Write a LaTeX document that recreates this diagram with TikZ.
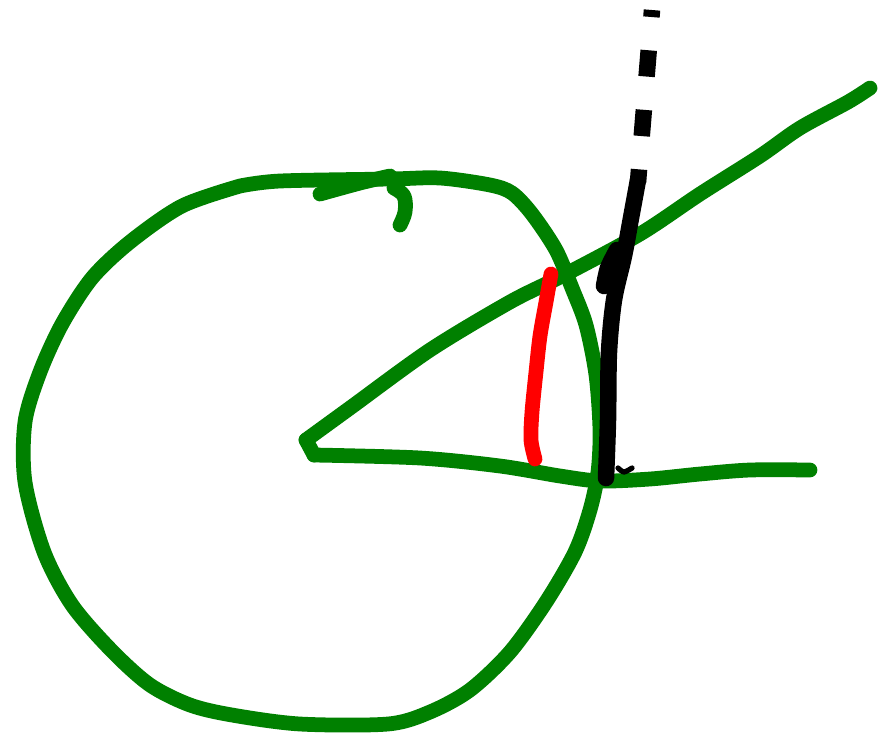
\documentclass[tikz,border=0pt]{standalone}
\usepackage{xcolor}
\usepackage{tikz}
\definecolor{verde}{HTML}{008000}
\definecolor{rojo}{HTML}{FF0000}
\definecolor{negro}{HTML}{000000}
\tikzset{
  trazo/.style={line width=8.4pt,line cap=round,line join=round,verde},
  trazorojo/.style={trazo,rojo},
  trazonegro/.style={trazo,negro,line width=9.4pt},
  trazoguion/.style={trazonegro,line cap=butt,dash pattern=on 15pt off 19pt,dash phase=11pt},
}
\begin{document}
\begin{tikzpicture}[x=0.02cm,y=-0.02cm]
  \useasboundingbox (0,0) rectangle (889,741);
  % circulo
  \draw[trazo] plot[smooth,tension=0.5] coordinates {(240,186) (280,181) (390,179) (440,178) (490,185) (512,193) (532,214) (556,250) (572,288) (586,325) (596,375) (600,430) (598,472) (590,510) (575,552) (546,602) (510,652) (470,690) (430,712) (388,724) (300,724) (232,715) (190,705) (150,685) (112,651) (72,605) (44,552) (25,482) (25,422) (40,372) (62,324) (92,278) (130,242) (182,206) (240,186)};
  \draw[trazo] plot[smooth,tension=0.5] coordinates {(320,194) (360,183) (390,176)};
  \draw[trazo] plot[smooth,tension=0.6] coordinates {(394,188) (404,196) (405,212) (400,225)};
  % lados del angulo
  \draw[trazo] plot[smooth,tension=0.5] coordinates {(306,440) (350,408) (430,350) (510,302) (562,276) (640,234) (700,194) (760,156) (800,128) (848,102) (870,88)};
  \draw[trazo] (306,440) -- (314,455);
  \draw[trazo] plot[smooth,tension=0.5] coordinates {(314,455) (420,458) (500,466) (560,476) (600,481) (650,479) (700,474) (750,470) (810,470)};
  % seno
  \draw[trazorojo] plot[smooth,tension=0.5] coordinates {(551,274) (546,302) (540,336) (536,372) (532,412) (531,440) (535,459)};
  % tangente
  \draw[trazonegro] plot[smooth,tension=0.5] coordinates {(606,478) (608,420) (609,352) (614,300) (624,256) (631,218) (638,180)};
  \draw[trazonegro] plot[smooth,tension=0.5] coordinates {(617,250) (608,268) (604,286)};
  \draw[trazonegro,line width=3pt] plot[smooth] coordinates {(618,468) (624,472) (632,468)};
  \draw[trazoguion] (652,10) -- (638,182);
\end{tikzpicture}
\end{document}
